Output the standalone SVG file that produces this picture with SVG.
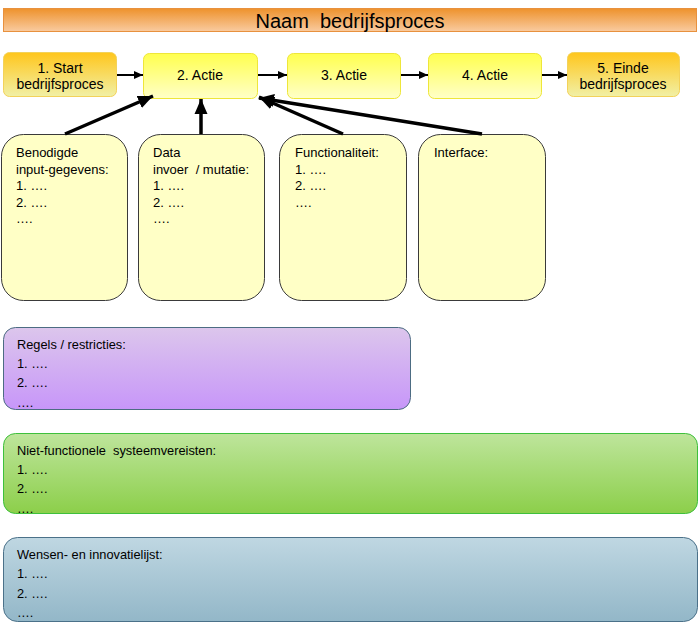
<svg xmlns="http://www.w3.org/2000/svg" width="700" height="629" viewBox="0 0 700 629">
<defs>
<linearGradient id="gTitle" x1="0" y1="0" x2="0" y2="1"><stop offset="0" stop-color="#ee922c"/><stop offset="1" stop-color="#f9cba0"/></linearGradient>
<linearGradient id="gGold" x1="0" y1="0" x2="0" y2="1"><stop offset="0" stop-color="#ffc61c"/><stop offset="1" stop-color="#f1f0a6"/></linearGradient>
<linearGradient id="gYel" x1="0" y1="0" x2="0" y2="1"><stop offset="0" stop-color="#ffff4e"/><stop offset="1" stop-color="#ffffc8"/></linearGradient>
<linearGradient id="gPur" x1="0" y1="0" x2="0" y2="1"><stop offset="0" stop-color="#dcc6ec"/><stop offset="1" stop-color="#c796f9"/></linearGradient>
<linearGradient id="gGrn" x1="0" y1="0" x2="0" y2="1"><stop offset="0" stop-color="#bee59c"/><stop offset="1" stop-color="#8ccf4a"/></linearGradient>
<linearGradient id="gBlu" x1="0" y1="0" x2="0" y2="1"><stop offset="0" stop-color="#bfd7e2"/><stop offset="1" stop-color="#93b7c8"/></linearGradient>
<marker id="aS" markerUnits="userSpaceOnUse" markerWidth="10" markerHeight="10" refX="9" refY="5" orient="auto"><path d="M0,1 L9,5 L0,9 Z" fill="#000"/></marker>
<marker id="aL" markerUnits="userSpaceOnUse" markerWidth="16" markerHeight="16" refX="15" refY="8" orient="auto"><path d="M0,1.5 L15,8 L0,14.5 Z" fill="#000"/></marker>
</defs>
<style>
text{font-family:"Liberation Sans",Arial,sans-serif;fill:#000;white-space:pre}
.t{font-size:20px}
.h{font-size:14px}
.s{font-size:13px}
.p{font-size:12.8px}
.yb{fill:#ffffc6;stroke:#3a3a3a;stroke-width:1}
.con line{stroke:#000}
</style>
<g id="title">
<rect x="3.5" y="8.5" width="693" height="23" fill="url(#gTitle)" stroke="#e8913e" stroke-width="1"/>
<text class="t" x="350" y="28" text-anchor="middle" xml:space="preserve">Naam  bedrijfsproces</text>
</g>
<g id="start">
<rect x="3.5" y="52.5" width="113" height="44" rx="6" fill="url(#gGold)" stroke="#f3d25a" stroke-width="1"/>
<text class="h" x="60" y="73" text-anchor="middle">1. Start</text>
<text class="h" x="60" y="89" text-anchor="middle">bedrijfsproces</text>
</g>
<g id="actie2">
<rect x="143.5" y="53.5" width="114" height="45" rx="6" fill="url(#gYel)" stroke="#eee63a" stroke-width="1"/>
<text class="h" x="200" y="80" text-anchor="middle">2. Actie</text>
</g>
<g id="actie3">
<rect x="287.5" y="53.5" width="113" height="45" rx="6" fill="url(#gYel)" stroke="#eee63a" stroke-width="1"/>
<text class="h" x="344" y="80" text-anchor="middle">3. Actie</text>
</g>
<g id="actie4">
<rect x="428.5" y="53.5" width="113" height="45" rx="6" fill="url(#gYel)" stroke="#eee63a" stroke-width="1"/>
<text class="h" x="485" y="80" text-anchor="middle">4. Actie</text>
</g>
<g id="einde">
<rect x="567.5" y="52.5" width="112" height="44" rx="6" fill="url(#gGold)" stroke="#f3d25a" stroke-width="1"/>
<text class="h" x="623" y="73" text-anchor="middle">5. Einde</text>
<text class="h" x="623" y="89" text-anchor="middle">bedrijfsproces</text>
</g>
<g id="input">
<rect class="yb" x="1.5" y="134.5" width="126" height="166" rx="22"/>
<text class="s" x="16" y="157">Benodigde</text>
<text class="s" x="16" y="174">input-gegevens:</text>
<text class="s" x="16" y="190">1. ….</text>
<text class="s" x="16" y="207">2. ….</text>
<text class="s" x="16" y="223">….</text>
</g>
<g id="data">
<rect class="yb" x="138.5" y="134.5" width="126" height="166" rx="22"/>
<text class="s" x="153" y="157">Data</text>
<text class="s" x="153" y="174" xml:space="preserve">invoer  / mutatie:</text>
<text class="s" x="153" y="190">1. ….</text>
<text class="s" x="153" y="207">2. ….</text>
<text class="s" x="153" y="223">….</text>
</g>
<g id="functionaliteit">
<rect class="yb" x="279.5" y="134.5" width="127" height="166" rx="22"/>
<text class="s" x="295" y="157">Functionaliteit:</text>
<text class="s" x="295" y="174">1. ….</text>
<text class="s" x="295" y="190">2. ….</text>
<text class="s" x="295" y="207">….</text>
</g>
<g id="interface">
<rect class="yb" x="418.5" y="134.5" width="127" height="166" rx="22"/>
<text class="s" x="434" y="157">Interface:</text>
</g>
<g id="regels">
<rect x="3.5" y="327.5" width="407" height="82" rx="12" fill="url(#gPur)" stroke="#4c6c82" stroke-width="1"/>
<text class="p" x="17" y="349">Regels / restricties:</text>
<text class="p" x="17" y="368">1. ….</text>
<text class="p" x="17" y="387">2. ….</text>
<text class="p" x="17" y="407">….</text>
</g>
<g id="nietfunctioneel">
<rect x="3.5" y="433.5" width="694" height="80" rx="12" fill="url(#gGrn)" stroke="#3ec03c" stroke-width="1"/>
<text class="p" x="17" y="455" xml:space="preserve">Niet-functionele  systeemvereisten:</text>
<text class="p" x="17" y="474">1. ….</text>
<text class="p" x="17" y="493">2. ….</text>
<text class="p" x="17" y="513">….</text>
</g>
<g id="wensen">
<rect x="3.5" y="537.5" width="694" height="84" rx="14" fill="url(#gBlu)" stroke="#4b7189" stroke-width="1"/>
<text class="p" x="17" y="559">Wensen- en innovatielijst:</text>
<text class="p" x="17" y="578">1. ….</text>
<text class="p" x="17" y="598">2. ….</text>
<text class="p" x="17" y="617">….</text>
</g>
<g id="connectors" class="con">
<line x1="117" y1="75" x2="143" y2="75" stroke-width="2" marker-end="url(#aS)"/>
<line x1="258" y1="75" x2="287" y2="75" stroke-width="2" marker-end="url(#aS)"/>
<line x1="401" y1="75" x2="428" y2="75" stroke-width="2" marker-end="url(#aS)"/>
<line x1="542" y1="75" x2="567" y2="75" stroke-width="2" marker-end="url(#aS)"/>
<line x1="65" y1="134" x2="153" y2="96" stroke-width="3.5" marker-end="url(#aL)"/>
<line x1="201" y1="134" x2="201" y2="99" stroke-width="3.5" marker-end="url(#aL)"/>
<line x1="343" y1="134" x2="259" y2="97" stroke-width="3.5" marker-end="url(#aL)"/>
<line x1="482" y1="134" x2="259" y2="98" stroke-width="3.5" marker-end="url(#aL)"/>
</g>
</svg>
